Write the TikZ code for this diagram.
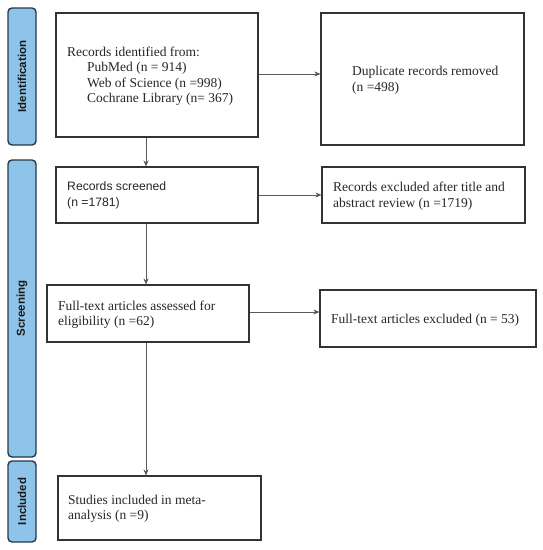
\documentclass[tikz,border=0pt]{standalone}
\usepackage{fontspec}
\setmainfont{Liberation Serif}
\setsansfont{Liberation Sans}
\usetikzlibrary{arrows.meta}
\definecolor{bandfill}{HTML}{8FC4EA}
\definecolor{banddraw}{HTML}{22394A}
\definecolor{linegray}{HTML}{5A5A5A}
\tikzset{
  band/.style={draw=banddraw, fill=bandfill, line width=1.4pt, rounded corners=4pt},
  bandlabel/.style={rotate=90, font=\sffamily\bfseries\fontsize{11.5}{13}\selectfont, text=black!90},
  box/.style={draw=black!80, line width=1.1pt},
  txt/.style={anchor=west, align=left, inner sep=0pt, font=\fontsize{13.5}{15.5}\selectfont, text=black!85},
  stxt/.style={anchor=west, align=left, inner sep=0pt, font=\sffamily\fontsize{12.2}{15.5}\selectfont, text=black!85},
  arr/.style={draw=linegray, line width=0.8pt, -{Stealth[length=6pt,width=5pt,fill=black]}}
}
\begin{document}
\begin{tikzpicture}[x=1pt,y=-1pt]
\useasboundingbox (0,0) rectangle (542,550);
% phase bands
\draw[band] (8,8) rectangle (36,145);
\node[bandlabel] (lid) at (22,76.5) {Identification};
\draw[band] (8,160) rectangle (36,457);
\node[bandlabel] (lsc) at (22,308.5) {Screening};
\draw[band] (8,461) rectangle (36,542);
\node[bandlabel] (lin) at (22,501.5) {Included};
% boxes
\node (b1) at (157,75) [box, minimum width=202pt, minimum height=124pt] {};
\node[txt] (t1) at (67,76) {Records identified from:\\\hspace{20pt}PubMed (n = 914)\\\hspace{20pt}Web of Science (n =998)\\\hspace{20pt}Cochrane Library (n= 367)};
\node (b2) at (422.5,79) [box, minimum width=203pt, minimum height=132pt] {};
\node[txt] (t2) at (352,80) {Duplicate records removed\\(n =498)};
\node (b3) at (157,195) [box, minimum width=202pt, minimum height=56pt] {};
\node[stxt] (t3) at (67,195.5) {Records screened\\(n =1781)};
\node (b4) at (423.5,195) [box, minimum width=203pt, minimum height=56pt] {};
\node[txt] (t4) at (333,196) {Records excluded after title and\\abstract review (n =1719)};
\node (b5) at (148,313.5) [box, minimum width=202pt, minimum height=57pt] {};
\node[txt] (t5) at (58,314.5) {Full-text articles assessed for\\eligibility (n =62)};
\node (b6) at (428,318.5) [box, minimum width=216pt, minimum height=57pt] {};
\node[txt] (t6) at (331,320) {Full-text articles excluded (n = 53)};
\node (b7) at (159.5,508) [box, minimum width=203pt, minimum height=64pt] {};
\node[txt] (t7) at (68,509) {Studies included in meta-\\analysis (n =9)};
% routing coordinates
\coordinate (col) at (146,0);
\coordinate (r1) at (0,74);
\coordinate (r2) at (0,195);
\coordinate (r3) at (0,312);
% connectors
\draw[arr] (b1.south -| col) -- (b3.north -| col);
\draw[arr] (b3.south -| col) -- (b5.north -| col);
\draw[arr] (b5.south -| col) -- (b7.north -| col);
\draw[arr] (b1.east |- r1) -- (b2.west |- r1);
\draw[arr] (b3.east |- r2) -- (b4.west |- r2);
\draw[arr] (b5.east |- r3) -- (b6.west |- r3);
\end{tikzpicture}
\end{document}
